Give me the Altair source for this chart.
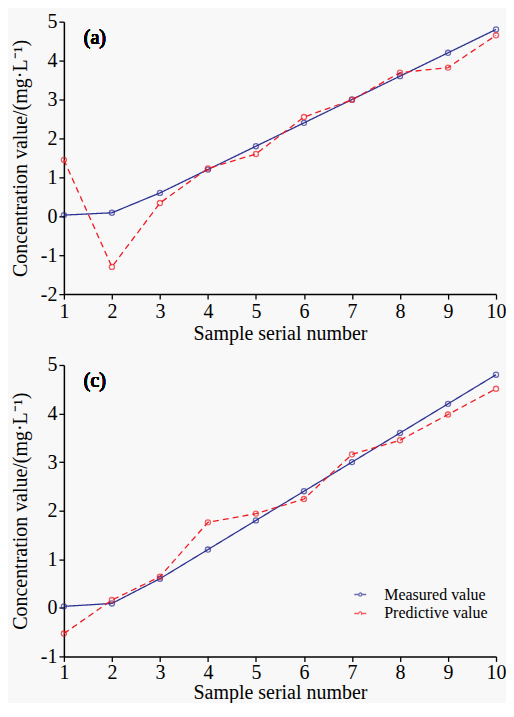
import altair as alt
import pandas as pd

samples = list(range(1, 11))
measured = [0.03, 0.09, 0.6, 1.2, 1.8, 2.4, 3.0, 3.6, 4.2, 4.8]
pred_a = [1.45, -1.30, 0.34, 1.23, 1.60, 2.55, 2.99, 3.69, 3.82, 4.65]
pred_c = [-0.53, 0.16, 0.64, 1.76, 1.94, 2.24, 3.16, 3.45, 3.98, 4.51]

series = ["Measured value", "Predictive value"]
colors = ["#2e3192", "#ed1c24"]
dashes = [[1, 0], [6, 4]]

FONT = "'Liberation Serif', 'Times New Roman', serif"
YTITLE = "Concentration value/(mg·L⁻¹)"
LEGEND_SYMBOL = "M-1.5,0L-0.38,0M0.38,0L1.5,0M-0.38,0A0.38,0.38,0,1,1,0.38,0A0.38,0.38,0,1,1,-0.38,0"


def frame(pred):
    rows = []
    for s, m, p in zip(samples, measured, pred):
        rows.append({"sample": s, "value": m, "series": series[0]})
        rows.append({"sample": s, "value": p, "series": series[1]})
    return pd.DataFrame(rows)


def panel(df, ymin, label, show_legend, height, label_pad, title_pad):
    x = alt.X("sample:Q", scale=alt.Scale(domain=[1, 10], nice=False),
              axis=alt.Axis(values=samples, title="Sample serial number",
                            labelExpr="toString(datum.value)",
                            labelPadding=label_pad, titlePadding=title_pad))
    y = alt.Y("value:Q", scale=alt.Scale(domain=[ymin, 5], nice=False),
              axis=alt.Axis(values=list(range(ymin, 6)), title=YTITLE,
                            labelExpr="toString(datum.value)"))
    if show_legend:
        leg = alt.Legend(title=None, orient="none", legendX=289, legendY=222, padding=0,
                         symbolType=LEGEND_SYMBOL, symbolSize=64, symbolStrokeWidth=1.3,
                         symbolDash=[1, 0], symbolFillColor="transparent",
                         labelFont=FONT, labelFontSize=16,
                         labelColor="black", rowPadding=3, labelOffset=16)
    else:
        leg = None
    color = alt.Color("series:N", scale=alt.Scale(domain=series, range=colors), legend=leg)
    line = alt.Chart(df).mark_line(strokeWidth=1.3).encode(
        x=x, y=y, color=color,
        strokeDash=alt.StrokeDash("series:N", scale=alt.Scale(domain=series, range=dashes), legend=None))
    pts = alt.Chart(df).mark_point(shape="circle", filled=False, size=26, strokeWidth=1.3).encode(
        x=x, y=y, color=color)
    txt = alt.Chart(df).mark_text(font=FONT, fontSize=20, fontWeight="normal", align="left",
                                  baseline="middle", color="black").encode(
        x=alt.value(20), y=alt.value(16), text=alt.value(label))
    return alt.layer(line, pts, txt).properties(width=433, height=height)


top = panel(frame(pred_a), -2, "(a)", False, 273, 2, 2)
bottom = panel(frame(pred_c), -1, "(c)", True, 292, 1, 0)

chart = alt.vconcat(top, bottom, spacing=12).resolve_legend(
    color="independent", strokeDash="independent"
).resolve_scale(color="independent", strokeDash="independent").properties(
    background="#f8f8f8", padding={"left": 2, "top": 3, "right": 0, "bottom": 0}
).configure_view(stroke=None).configure_axis(
    grid=False, domainColor="black", domainWidth=1.5, tickColor="black", tickWidth=1.3,
    tickSize=5, labelFont=FONT, labelFontSize=20, labelColor="black",
    titleFont=FONT, titleFontSize=20, titleFontWeight="normal", titleColor="black",
    labelFlush=False
).configure_axisY(titlePadding=10, labelPadding=2)

chart.save("out.html", embed_options={"renderer": "svg", "actions": False})
